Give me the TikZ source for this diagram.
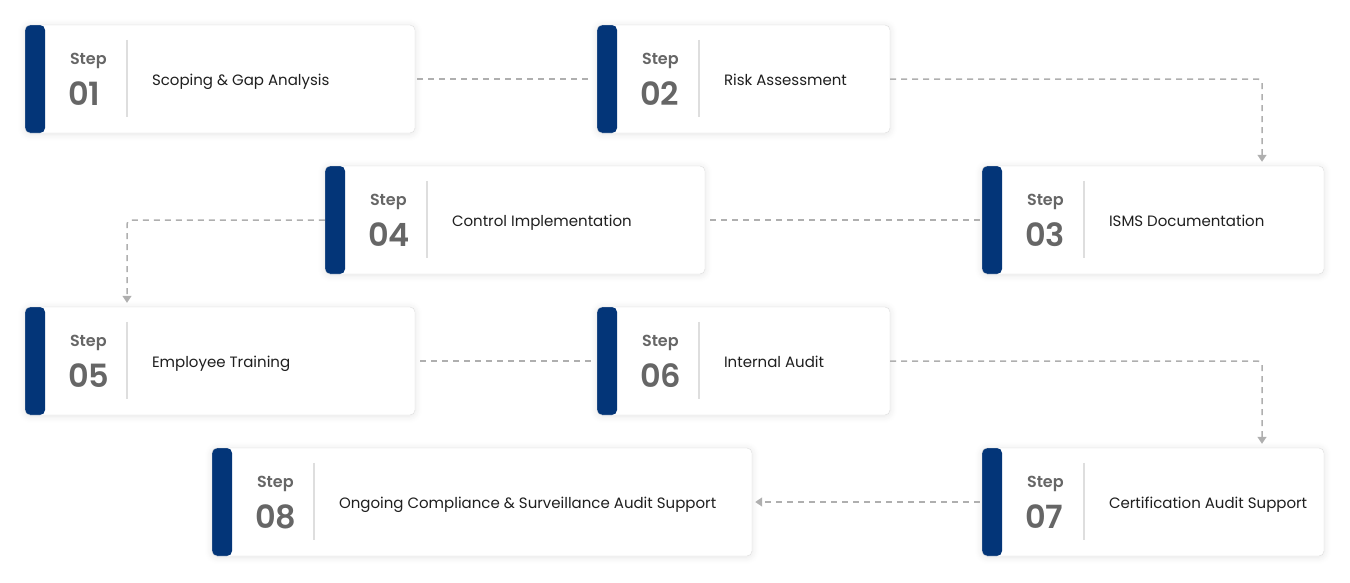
\documentclass[tikz,border=0pt]{standalone}
\usepackage{fontspec}
\setmainfont{Poppins}
\newfontfamily\stepsemi{Poppins SemiBold}
\usetikzlibrary{arrows.meta,shadows.blur}
\definecolor{stepblue}{RGB}{3,53,120}
\definecolor{stepgray}{RGB}{102,102,102}
\definecolor{linkgray}{RGB}{175,175,175}
\definecolor{cardline}{RGB}{222,222,222}
\tikzset{
  card/.style={draw=cardline,fill=white,rounded corners=5pt,minimum height=108pt,inner sep=0pt,
    blur shadow={shadow xshift=0pt,shadow yshift=-1pt,shadow blur radius=7pt,shadow blur steps=10,shadow opacity=10},
    path picture={\fill[stepblue] (path picture bounding box.south west) rectangle ([xshift=20pt]path picture bounding box.north west);}},
  steplbl/.style={text=stepgray,font=\fontsize{16}{18}\selectfont\stepsemi,inner sep=0pt,anchor=base west},
  stepnum/.style={text=stepgray,font=\fontsize{32}{34}\selectfont\stepsemi,inner sep=0pt,anchor=base west},
  steptitle/.style={text=black!88,font=\fontsize{15}{18}\selectfont,inner sep=0pt,anchor=base west},
  link/.style={draw=linkgray,line width=1.5pt,dash pattern=on 6pt off 5pt,rounded corners=4pt},
  tip/.style={-{Triangle[width=9pt,length=7pt]}}
}
\begin{document}
\begin{tikzpicture}[x=1pt,y=-1pt]
  \useasboundingbox (0,0) rectangle (1350,582);
  \foreach \n/\x/\y/\w/\t in {1/220/79/390/{Scoping \& Gap Analysis},2/743.5/79/293/{Risk Assessment},
    3/1153/220/342/{ISMS Documentation},4/515/220/380/{Control Implementation},
    5/220/361/390/{Employee Training},6/743.5/361/293/{Internal Audit},
    7/1153/502/342/{Certification Audit Support},8/482/502/540/{Ongoing Compliance \& Surveillance Audit Support}}
  {
    \node[card,minimum width=\w pt] (s\n) at (\x,\y) {};
    \draw[cardline,line width=1.5pt] ([xshift=102pt,yshift=-15pt]s\n.north west) -- ([xshift=102pt,yshift=16pt]s\n.south west);
    \node[steplbl] at ([xshift=45pt,yshift=-40pt]s\n.north west) {Step};
    \node[stepnum] at ([xshift=43pt,yshift=-81pt]s\n.north west) {0\n};
    \node[steptitle] at ([xshift=127pt,yshift=-60.5pt]s\n.north west) {\t};
  }
  \draw[link,shorten <=2pt,shorten >=5pt] (s1) -- (s2);
  \draw[link,tip,shorten >=4pt] (s2.east) -| ([xshift=109pt]s3.north);
  \draw[link,shorten <=2pt,shorten >=2pt] (s3) -- (s4);
  \draw[link,tip,shorten >=4pt] (s4.west) -| ([xshift=-93pt]s5.north);
  \draw[link,shorten <=5pt,shorten >=5pt] (s5) -- (s6);
  \draw[link,tip,shorten >=4pt] (s6.east) -| ([xshift=109pt]s7.north);
  \draw[link,tip,shorten <=2pt,shorten >=3pt] (s7) -- (s8);
\end{tikzpicture}
\end{document}
